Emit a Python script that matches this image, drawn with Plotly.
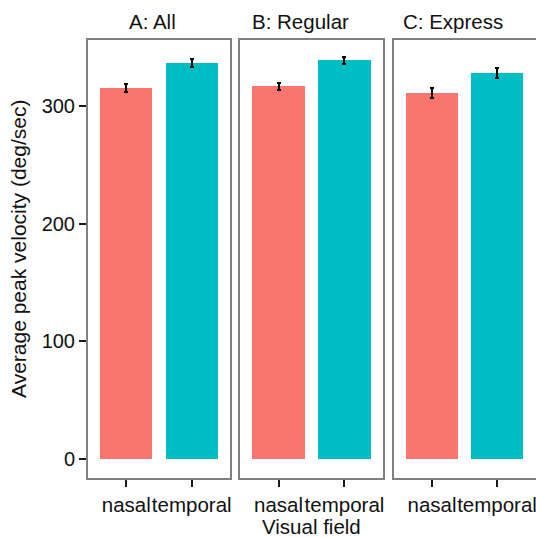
import plotly.graph_objects as go

panels = ["A: All", "B: Regular", "C: Express"]
categories = ["nasal", "temporal"]
means = {
    "A: All": [315.5, 336.5],
    "B: Regular": [316.8, 339.0],
    "C: Express": [311.0, 328.0],
}
errors = {
    "A: All": [3.3, 3.3],
    "B: Regular": [3.0, 3.0],
    "C: Express": [4.3, 4.3],
}
bar_colors = ["#F8766D", "#00BFC4"]
y_ticks = [0, 100, 200, 300]

W, H = 536, 537
panel_px = [(87, 231), (239, 384), (393, 537)]
strip_cx = [152, 300, 453]
top_px, bot_px = 39, 479

fig = go.Figure()
font_family = "Liberation Sans, Arial, Helvetica, sans-serif"
txt = "#111111"

for i, p in enumerate(panels):
    idx = "" if i == 0 else str(i + 1)
    fig.add_trace(go.Bar(
        x=categories, y=means[p],
        marker=dict(color=bar_colors, line=dict(width=0)),
        width=0.8,
        error_y=dict(type="data", array=errors[p], color="black", thickness=2, width=2),
        xaxis="x" + idx, yaxis="y" + idx, showlegend=False,
    ))
    x0, x1 = panel_px[i]
    dom = [x0 / W, min(x1 / W, 1.0)]
    fig.layout["xaxis" + idx] = dict(
        domain=dom, anchor="y" + idx, type="category", range=[-0.6, 1.6],
        showgrid=False, zeroline=False, showline=False,
        ticks="outside", ticklen=7, tickwidth=2, tickcolor="#1a1a1a",
        tickangle=0, automargin=False,
        tickfont=dict(size=20.5, color=txt, family=font_family),
    )
    yd = dict(
        domain=[1 - bot_px / H, 1 - top_px / H], anchor="x" + idx,
        range=[-17, 357], showgrid=False, zeroline=False, showline=False,
        tickvals=y_ticks, automargin=False,
    )
    if i == 0:
        yd.update(ticks="outside", ticklen=7, tickwidth=2, tickcolor="#1a1a1a",
                  tickfont=dict(size=20, color=txt, family=font_family))
    else:
        yd.update(matches="y", showticklabels=False, ticks="")
    fig.layout["yaxis" + idx] = yd
    fig.add_shape(type="rect", xref="paper", yref="paper",
                  x0=x0 / W, x1=min(x1 / W, 1.0) + (0.01 if i == 2 else 0),
                  y0=1 - bot_px / H, y1=1 - top_px / H,
                  line=dict(color="#808080", width=2), layer="above")
    fig.add_annotation(text=p, xref="paper", yref="paper",
                       x=strip_cx[i] / W, y=1 - 21 / H, showarrow=False,
                       font=dict(size=20.5, color=txt, family=font_family),
                       xanchor="center", yanchor="middle")

fig.add_annotation(text="Average peak velocity (deg/sec)", xref="paper", yref="paper",
                   x=18 / W, y=1 - 249 / H, textangle=-90, showarrow=False,
                   font=dict(size=21, color=txt, family=font_family),
                   xanchor="center", yanchor="middle")
fig.add_annotation(text="Visual field", xref="paper", yref="paper",
                   x=311 / W, y=1 - 526 / H, showarrow=False,
                   font=dict(size=20.5, color=txt, family=font_family),
                   xanchor="center", yanchor="middle")

fig.update_layout(width=W, height=H, margin=dict(l=0, r=0, t=0, b=0, autoexpand=False),
                  plot_bgcolor="white", paper_bgcolor="white", bargap=0)
fig.write_html("out.html", config={"displayModeBar": False},
               post_script="document.body.style.margin='0px';document.body.style.overflow='hidden';")
